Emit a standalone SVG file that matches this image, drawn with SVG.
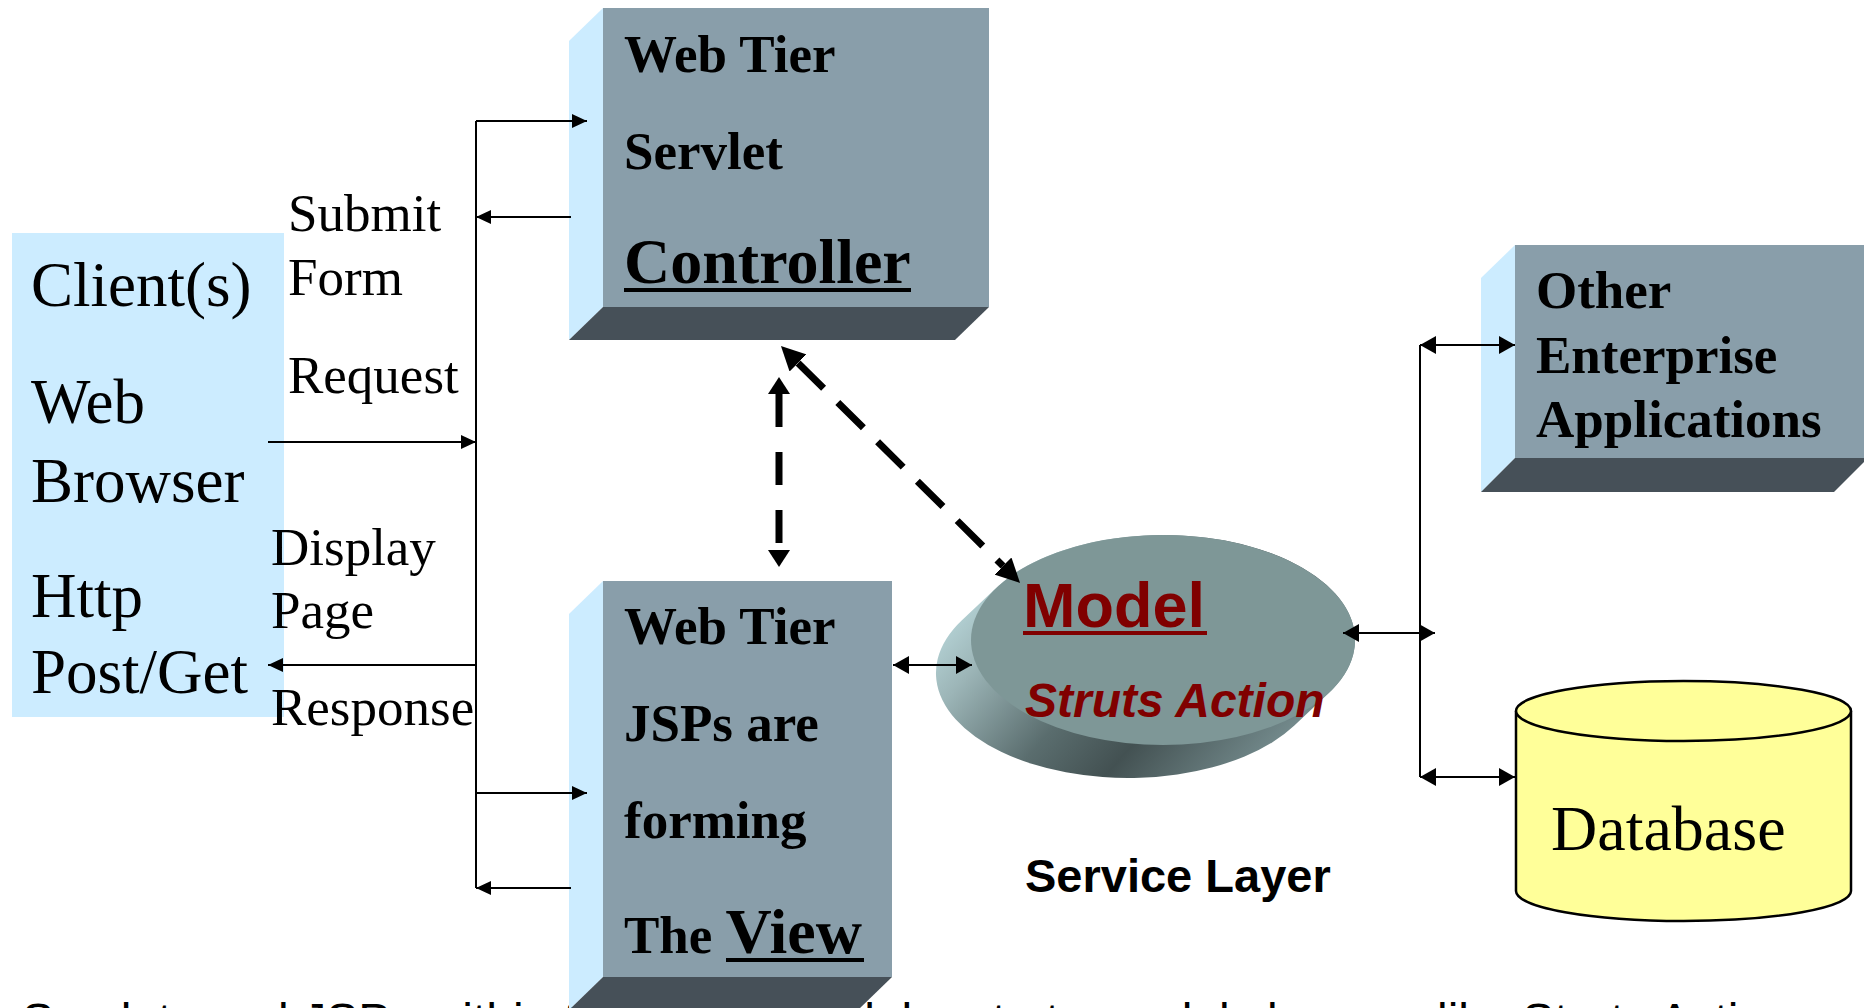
<svg xmlns="http://www.w3.org/2000/svg" width="1864" height="1008" viewBox="0 0 1864 1008">
<defs>
<style>
.serif{font-family:"Liberation Serif","Times New Roman",serif;fill:#000}
.sans{font-family:"Liberation Sans",Arial,sans-serif}
.lbl{font-size:53px}
.big{font-size:63px}
.bt{font-size:53px;font-weight:bold}
.front{fill:#899EAA}
.side{fill:#CCECFF}
.dark{fill:#465058}
.thin{stroke:#000;stroke-width:2;fill:none}
.dash{stroke:#000;stroke-width:7;fill:none}
</style>
<marker id="ah" viewBox="0 0 15 14" refX="15" refY="7" markerWidth="15" markerHeight="14" markerUnits="userSpaceOnUse" orient="auto-start-reverse"><path d="M0,0 L15,7 L0,14 z" fill="#000"/></marker>
<marker id="ah2" viewBox="0 0 16 18" refX="16" refY="9" markerWidth="16" markerHeight="18" markerUnits="userSpaceOnUse" orient="auto-start-reverse"><path d="M0,0 L16,9 L0,18 z" fill="#000"/></marker>
<marker id="dv" viewBox="0 0 17 22" refX="0" refY="11" markerWidth="17" markerHeight="22" markerUnits="userSpaceOnUse" orient="auto-start-reverse"><path d="M0,0 L17,11 L0,22 z" fill="#000"/></marker>
<marker id="dd" viewBox="0 0 24 24" refX="0" refY="12" markerWidth="24" markerHeight="24" markerUnits="userSpaceOnUse" orient="auto-start-reverse"><path d="M0,0 L24,12 L0,24 z" fill="#000"/></marker>
<linearGradient id="sweep" x1="0" y1="0.1" x2="1" y2="0.6">
<stop offset="0" stop-color="#CDEFF3"/>
<stop offset="0.25" stop-color="#9CB5B7"/>
<stop offset="0.5" stop-color="#5A6D6E"/>
<stop offset="0.68" stop-color="#435152"/>
<stop offset="1" stop-color="#7A9294"/>
</linearGradient>
</defs>
<rect width="1864" height="1008" fill="#fff"/>

<g id="footer">
<text class="sans" font-size="48" x="22" y="1037">Servlets and JSPs within the Web Tier delegate to model classes <tspan x="1437">like Struts Action</tspan></text>
</g>

<g id="client">
<rect x="12" y="233" width="272" height="484" fill="#CCECFF"/>
<text class="serif big" x="31" y="306">Client(s)</text>
<text class="serif big" x="31" y="423">Web</text>
<text class="serif big" x="31" y="502">Browser</text>
<text class="serif big" x="31" y="617">Http</text>
<text class="serif big" x="31" y="693">Post/Get</text>
</g>

<g id="labels">
<text class="serif lbl" x="288" y="231">Submit</text>
<text class="serif lbl" x="288" y="295">Form</text>
<text class="serif lbl" x="288" y="393">Request</text>
<text class="serif lbl" x="271" y="565">Display</text>
<text class="serif lbl" x="271" y="628">Page</text>
<text class="serif lbl" x="271" y="725">Response</text>
</g>

<g id="controller">
<rect class="front" x="603" y="8" width="386" height="299"/>
<polygon class="side" points="569,41 603,8 603,307 569,340"/>
<polygon class="dark" points="603,307 989,307 955,340 569,340"/>
<text class="serif bt" x="624" y="72">Web Tier</text>
<text class="serif bt" x="624" y="169">Servlet</text>
<text class="serif" font-size="64" font-weight="bold" x="624" y="283">Controller</text>
<rect x="624" y="288" width="287" height="4" fill="#000"/>
</g>

<g id="view">
<rect class="front" x="603" y="581" width="289" height="396"/>
<polygon class="side" points="569,614 603,581 603,977 569,1010"/>
<polygon class="dark" points="603,977 892,977 858,1010 569,1010"/>
<text class="serif bt" x="624" y="644">Web Tier</text>
<text class="serif bt" x="624" y="741">JSPs are</text>
<text class="serif bt" x="624" y="838">forming</text>
<text class="serif bt" x="624" y="953">The <tspan font-size="64">View</tspan></text>
<rect x="726" y="958" width="138" height="4" fill="#000"/>
</g>

<g id="model">
<path d="M996.9,587.3 L961.9,620.3 A192,105 0 1 0 1294.1,725.7 L1329.1,692.7 A192,105 0 1 0 996.9,587.3 Z" fill="url(#sweep)"/>
<ellipse cx="1163" cy="640" rx="192" ry="105" fill="#7E9797"/>
<text class="sans" font-size="63" font-weight="bold" fill="#800000" x="1023" y="627">Model</text>
<rect x="1023" y="631" width="184" height="4" fill="#800000"/>
<text class="sans" font-size="48" font-weight="bold" font-style="italic" fill="#800000" x="1025" y="717">Struts Action</text>
</g>

<g id="service-layer">
<text class="sans" font-size="47" font-weight="bold" fill="#000" x="1025" y="892">Service Layer</text>
</g>

<g id="other-apps">
<rect class="front" x="1515" y="245" width="353" height="213"/>
<polygon class="side" points="1481,278 1515,245 1515,458 1481,492"/>
<polygon class="dark" points="1515,458 1868,458 1834,492 1481,492"/>
<text class="serif bt" x="1536" y="308">Other</text>
<text class="serif bt" x="1536" y="373">Enterprise</text>
<text class="serif bt" x="1536" y="437">Applications</text>
</g>

<g id="database">
<path d="M1516,711 V891 A167.5,30 0 0 0 1851,891 V711" fill="#FFFF99" stroke="#000" stroke-width="2.5"/>
<ellipse cx="1683.5" cy="711" rx="167.5" ry="30" fill="#FFFF99" stroke="#000" stroke-width="2.5"/>
<text class="serif" font-size="64" x="1551" y="850">Database</text>
</g>

<g id="connectors">
<path class="thin" d="M476,121 V888"/>
<path class="thin" d="M476,121 H587" marker-end="url(#ah)"/>
<path class="thin" d="M571,217 H476" marker-end="url(#ah)"/>
<path class="thin" d="M268,442 H476" marker-end="url(#ah)"/>
<path class="thin" d="M476,665 H268" marker-end="url(#ah)"/>
<path class="thin" d="M476,793 H587" marker-end="url(#ah)"/>
<path class="thin" d="M571,888 H476" marker-end="url(#ah)"/>
<path class="dash" d="M779,394 V550" stroke-dasharray="33 25" marker-start="url(#dv)" marker-end="url(#dv)"/>
<path class="dash" d="M798,363 L1003,566" stroke-dasharray="36 20" marker-start="url(#dd)" marker-end="url(#dd)"/>
<path class="thin" d="M893,665 H972" marker-start="url(#ah2)" marker-end="url(#ah2)"/>
<path class="thin" d="M1343,633 H1435" marker-start="url(#ah2)" marker-end="url(#ah2)"/>
<path class="thin" d="M1420,345 V777"/>
<path class="thin" d="M1420,345 H1515" marker-start="url(#ah2)" marker-end="url(#ah2)"/>
<path class="thin" d="M1420,777 H1515" marker-start="url(#ah2)" marker-end="url(#ah2)"/>
</g>
</svg>
